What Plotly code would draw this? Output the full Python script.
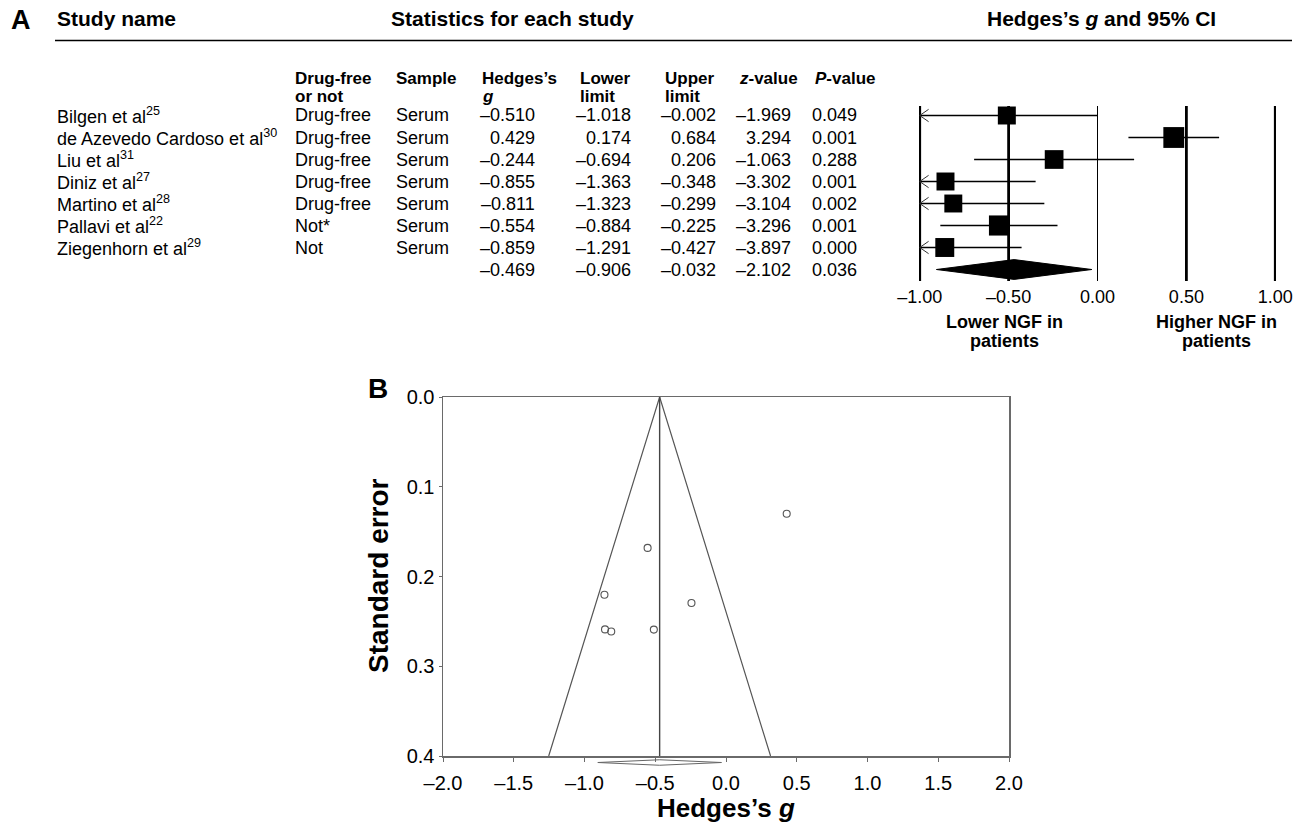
import plotly.graph_objects as go

# ---------------- data ----------------
studies = ["Bilgen et al", "de Azevedo Cardoso et al", "Liu et al", "Diniz et al",
           "Martino et al", "Pallavi et al", "Ziegenhorn et al"]
refs = ["25", "30", "31", "27", "28", "22", "29"]
drug_free = ["Drug-free", "Drug-free", "Drug-free", "Drug-free", "Drug-free", "Not*", "Not"]
sample = ["Serum", "Serum", "Serum", "Serum", "Serum", "Serum", "Serum"]
hedges_g = [-0.510, 0.429, -0.244, -0.855, -0.811, -0.554, -0.859]
lower = [-1.018, 0.174, -0.694, -1.363, -1.323, -0.884, -1.291]
upper = [-0.002, 0.684, 0.206, -0.348, -0.299, -0.225, -0.427]
z_value = [-1.969, 3.294, -1.063, -3.302, -3.104, -3.296, -3.897]
p_value = [0.049, 0.001, 0.288, 0.001, 0.002, 0.001, 0.000]
pooled_g = -0.469
pooled_lower = -0.906
pooled_upper = -0.032
pooled_z = -2.102
pooled_p = 0.036
forest_ticks = [-1.0, -0.5, 0.0, 0.5, 1.0]
funnel_xticks = [-2.0, -1.5, -1.0, -0.5, 0.0, 0.5, 1.0, 1.5, 2.0]
funnel_yticks = [0.0, 0.1, 0.2, 0.3, 0.4]

# ---------------- layout helpers ----------------
# body margin is removed in post_script, so the figure fills the page from (0, 0)
OFF = 0
W, H = 1301 - OFF, 834 - OFF
FONT = "Liberation Sans, Arial, sans-serif"


def px(x):
    return (x - OFF) / W


def py(y):
    return 1 - (y - OFF) / H


def fmt(v, nd=3):
    return f"{v:.{nd}f}".replace("-", "\u2013")


Z = 1.96
n = len(studies)
se = [(u - l) / (2 * Z) for l, u in zip(lower, upper)]

# random-effects weights (DerSimonian-Laird) for square sizes
w = [1 / s ** 2 for s in se]
g_fe = sum(wi * gi for wi, gi in zip(w, hedges_g)) / sum(w)
Q = sum(wi * (gi - g_fe) ** 2 for wi, gi in zip(w, hedges_g))
C = sum(w) - sum(wi ** 2 for wi in w) / sum(w)
tau2 = max(0.0, (Q - (n - 1)) / C)
w_re = [1 / (s ** 2 + tau2) for s in se]
sq_size = [6.6 * wi for wi in w_re]

fig = go.Figure()

# ---------------- forest plot ----------------
ROW0, ROWSTEP = 115.5, 22.0
F_TOP, F_BOT = 106, 281
y_top = (F_TOP - ROW0) / ROWSTEP
y_bot = (F_BOT - ROW0) / ROWSTEP
xmin, xmax = forest_ticks[0], forest_ticks[-1]

ci_x, ci_y, ar_x, ar_y = [], [], [], []
for i, (lo, hi) in enumerate(zip(lower, upper)):
    ci_x += [max(lo, xmin), min(hi, xmax), None]
    ci_y += [i, i, None]
    if lo < xmin:
        ar_x += [xmin + 0.05, xmin, xmin + 0.05, None]
        ar_y += [i - 0.28, i, i + 0.28, None]

fig.add_trace(go.Scatter(x=ci_x, y=ci_y, mode="lines", line=dict(color="black", width=1.5),
                         xaxis="x", yaxis="y", showlegend=False, hoverinfo="skip"))
fig.add_trace(go.Scatter(x=ar_x, y=ar_y, mode="lines", line=dict(color="#333", width=1),
                         xaxis="x", yaxis="y", showlegend=False, hoverinfo="skip"))
fig.add_trace(go.Scatter(x=hedges_g, y=list(range(n)), mode="markers",
                         marker=dict(symbol="square", color="black", opacity=1, size=sq_size,
                                     line=dict(width=0)),
                         xaxis="x", yaxis="y", showlegend=False, hoverinfo="skip"))
fig.add_trace(go.Scatter(x=[pooled_lower, pooled_g, pooled_upper, pooled_g, pooled_lower],
                         y=[n, n - 0.45, n, n + 0.45, n], mode="lines", fill="toself",
                         fillcolor="black", line=dict(color="black", width=1),
                         xaxis="x", yaxis="y", showlegend=False, hoverinfo="skip"))

shapes = []
for t in forest_ticks:
    shapes.append(dict(type="line", xref="x", yref="y domain", x0=t, x1=t, y0=0, y1=1,
                       line=dict(color="black", width=1 if t == 0 else 2.8), layer="below"))

# header rule
shapes.append(dict(type="line", xref="paper", yref="paper", x0=px(55), x1=px(1292),
                   y0=py(40.5), y1=py(40.5), line=dict(color="black", width=1.6)))

# ---------------- funnel plot ----------------
ymax = funnel_yticks[-1]
fig.add_trace(go.Scatter(x=[pooled_g - Z * ymax, pooled_g, pooled_g + Z * ymax],
                         y=[ymax, 0, ymax], mode="lines", line=dict(color="#555", width=1.2),
                         xaxis="x2", yaxis="y2", showlegend=False, hoverinfo="skip"))
fig.add_trace(go.Scatter(x=[pooled_g, pooled_g], y=[0, ymax], mode="lines",
                         line=dict(color="#444", width=1.4),
                         xaxis="x2", yaxis="y2", showlegend=False, hoverinfo="skip"))
fig.add_trace(go.Scatter(x=hedges_g, y=se, mode="markers",
                         marker=dict(symbol="circle-open", size=7, color="#555", opacity=1,
                                     line=dict(width=1.1)),
                         xaxis="x2", yaxis="y2", showlegend=False, hoverinfo="skip"))
fig.add_trace(go.Scatter(x=[pooled_lower, pooled_g, pooled_upper, pooled_g, pooled_lower],
                         y=[0, 0.5, 0, -0.5, 0], mode="lines", line=dict(color="#666", width=1),
                         xaxis="x3", yaxis="y3", showlegend=False, hoverinfo="skip"))

# ---------------- annotations ----------------
ann = []


def A(text, x, y, size=18, xanchor="left", yref="paper", color="black", **kw):
    ann.append(dict(text=text, x=x, y=y, xref="paper", yref=yref, xanchor=xanchor,
                    yanchor="middle", showarrow=False,
                    font=dict(family=FONT, size=size, color=color), **kw))


# headers
A("<b>A</b>", px(9), py(20), size=27)
A("<b>Study name</b>", px(55), py(19), size=21)
A("<b>Statistics for each study</b>", px(389), py(19), size=21)
A("<b>Hedges’s <i>g</i> and 95% CI</b>", px(1101), py(19), size=21, xanchor="center")

col_heads = [("Drug-free", "or not", 293), ("Sample", "", 394), ("Hedges’s", "<i>g</i>", 480),
             ("Lower", "limit", 578), ("Upper", "limit", 663),
             ("<i>z</i>-value", "", 737), ("<i>P</i>-value", "", 813)]
for l1, l2, x in col_heads:
    A(f"<b>{l1}</b>", px(x), py(79), size=17)
    if l2:
        A(f"<b>{l2}</b>", px(x), py(97), size=17)

for i in range(n):
    A(f"{studies[i]}<sup>{refs[i]}</sup>", px(55), i, yref="y")
    A(drug_free[i], px(293), i, yref="y")
    A(sample[i], px(394), i, yref="y")
    A(fmt(hedges_g[i]), px(537), i, yref="y", xanchor="right")
    A(fmt(lower[i]), px(633), i, yref="y", xanchor="right")
    A(fmt(upper[i]), px(718), i, yref="y", xanchor="right")
    A(fmt(z_value[i]), px(793), i, yref="y", xanchor="right")
    A(fmt(p_value[i]), px(859), i, yref="y", xanchor="right")
A(fmt(pooled_g), px(537), n, yref="y", xanchor="right")
A(fmt(pooled_lower), px(633), n, yref="y", xanchor="right")
A(fmt(pooled_upper), px(718), n, yref="y", xanchor="right")
A(fmt(pooled_z), px(793), n, yref="y", xanchor="right")
A(fmt(pooled_p), px(859), n, yref="y", xanchor="right")

A("<b>Lower NGF in</b>", px(1005), py(322), xanchor="center")
A("<b>patients</b>", px(1005), py(341), xanchor="center")
A("<b>Higher NGF in</b>", px(1216), py(322), xanchor="center")
A("<b>patients</b>", px(1216), py(341), xanchor="center")

# funnel labels
A("<b>B</b>", px(378), py(388), size=28, xanchor="center")
A("<b>Hedges’s <i>g</i></b>", px(726), py(808), size=26, xanchor="center")
A("<b>Standard error</b>", px(378), py(576), size=28, xanchor="center", textangle=-90)

fig.update_layout(
    width=W, height=H, margin=dict(l=0, r=0, t=0, b=0),
    paper_bgcolor="white", plot_bgcolor="rgba(0,0,0,0)",
    showlegend=False, hovermode=False,
    font=dict(family=FONT, color="black", size=18),
    shapes=shapes, annotations=ann,
    xaxis=dict(domain=[px(919), px(1276)], range=[xmin - 0.004, xmax + 0.004],
               tickvals=forest_ticks, ticktext=[fmt(t, 2) for t in forest_ticks],
               showgrid=False, zeroline=False, showline=False, ticks="",
               ticklabelstandoff=3,
               tickfont=dict(size=18, family=FONT, color="black"), anchor="y",
               automargin=False, fixedrange=True),
    yaxis=dict(domain=[py(F_BOT), py(F_TOP)], range=[y_bot, y_top], visible=False,
               anchor="x", automargin=False, fixedrange=True),
    xaxis2=dict(domain=[px(443), px(1009)], range=[funnel_xticks[0], funnel_xticks[-1]],
                tickvals=funnel_xticks, ticktext=[fmt(t, 1) for t in funnel_xticks],
                showgrid=False, zeroline=False, showline=True, mirror=True,
                linecolor="#6a6a6a", linewidth=1.5, ticks="outside", ticklen=4,
                tickcolor="#6a6a6a", ticklabelstandoff=4,
                tickfont=dict(size=20, family=FONT, color="black"),
                anchor="y2", automargin=False, fixedrange=True),
    yaxis2=dict(domain=[py(756), py(397)], range=[ymax, 0],
                tickvals=funnel_yticks, ticktext=[fmt(t, 1) for t in funnel_yticks],
                showgrid=False, zeroline=False, showline=True, mirror=True,
                linecolor="#6a6a6a", linewidth=1.5, ticks="outside", ticklen=3,
                tickcolor="#6a6a6a", tickfont=dict(size=20, family=FONT, color="black"),
                anchor="x2", automargin=False, fixedrange=True),
    xaxis3=dict(domain=[px(443), px(1009)], range=[funnel_xticks[0], funnel_xticks[-1]],
                visible=False, anchor="y3", fixedrange=True),
    yaxis3=dict(domain=[py(768), py(757)], range=[-1, 1], visible=False, anchor="x3",
                fixedrange=True),
)

fig.write_html("out.html",
               config={"displayModeBar": False, "staticPlot": True},
               post_script="document.body.style.margin='0';document.body.style.overflow='hidden';")
